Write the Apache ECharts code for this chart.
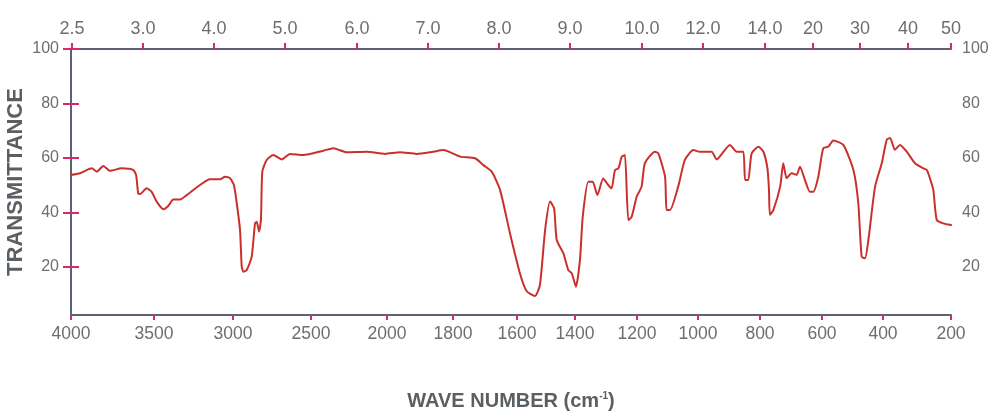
<!DOCTYPE html>
<html>
<head>
<meta charset="utf-8">
<script src="https://cdn.jsdelivr.net/npm/echarts@6/dist/echarts.min.js"></script>
<style>
html,body{margin:0;padding:0;background:#fff;}
#chart{width:993px;height:417px;}
</style>
</head>
<body>
<div id="chart"></div>
<script>
// Bottom axis: wavenumber tick labels (cm-1) and where each sits along the (non-linear) axis scale
const bottomTickLabels = [4000, 3500, 3000, 2500, 2000, 1800, 1600, 1400, 1200, 1000, 800, 600, 400, 200];
const bottomTickPos    = [0, 83, 162, 240, 316, 382, 446, 504, 566, 627, 689, 751, 812, 880];
// Top axis: wavelength tick labels (µm)
const topTickLabels = ['2.5', '3.0', '4.0', '5.0', '6.0', '7.0', '8.0', '9.0', '10.0', '12.0', '14.0', '20', '30', '40', '50'];
const topTickPos    = [1, 72, 143, 214, 286, 357, 428, 499, 571, 632, 694, 742, 789, 837, 880];
// Y axis tick labels
const yTicks = [20, 40, 60, 80, 100];

// Spectrum: wavenumber (cm-1) and transmittance (%)
const wavenumber = [4000,3946,3875,3845,3805,3765,3695,3625,3608,3595,
  3584,3544,3514,3483,3441,3410,3378,3335,3293,3209,
  3146,3082,3051,3019,2994,2976,2955,2944,2934,2912,
  2880,2859,2848,2833,2821,2812,2784,2742,2688,2635,
  2549,2419,2353,2265,2134,2013,1961,1910,1860,1829,
  1778,1731,1705,1679,1653,1622,1590,1567,1538,1521,
  1503,1486,1472,1463,1440,1423,1411,1397,1384,1375,
  1357,1343,1328,1309,1293,1282,1271,1260,1249,1239,
  1228,1217,1201,1185,1174,1141,1130,1108,1103,1092,
  1065,1043,1015,994,956,940,897,875,854,848,
  838,827,805,789,776,771,768,757,735,725,
  714,698,682,671,655,639,628,612,596,579,
  563,530,497,481,470,459,448,426,404,389,
  379,365,350,330,306,281,271,262,252,242,
  223,200];
const transmittance = [53.8,54.4,56.2,55.0,57.1,55.3,56.2,55.6,53.8,47.0,
  46.8,48.9,47.6,44.0,41.2,42.4,44.8,44.8,46.4,50.1,
  52.2,52.2,53.1,52.6,50.1,43.4,33.6,20.1,18.3,18.9,
  23.8,36.0,36.6,33.0,37.3,55.0,59.3,61.1,59.5,61.5,
  61.1,62.7,63.6,62.1,62.3,61.5,62.1,61.5,62.3,62.9,
  60.5,59.9,57.4,55.0,48.3,32.4,17.7,11.2,9.4,13.4,
  33.6,44.0,41.5,29.9,25.0,18.9,17.7,12.8,22.6,38.5,
  51.3,51.3,46.4,52.5,50.1,48.9,55.6,56.2,60.5,61.1,
  37.2,38.5,45.8,49.5,58.1,62.3,61.7,53.1,40.9,40.9,
  49.5,59.3,62.9,62.3,62.3,59.5,64.8,62.3,62.3,51.9,
  51.9,61.7,64.1,62.3,56.2,48.3,39.1,40.9,49.5,58.1,
  52.6,54.4,53.8,56.8,51.9,47.6,47.6,53.1,63.6,64.2,
  66.4,64.8,55.6,43.4,23.8,23.2,29.9,49.5,58.1,66.7,
  67.3,63.0,64.8,62.3,58.1,56.2,55.6,52.6,48.3,37.3,
  36.0,35.4];

if (wavenumber.length !== transmittance.length) throw new Error('length mismatch ' + wavenumber.length + ' ' + transmittance.length);

// Non-linear wavenumber scale: piecewise linear between the bottom ticks
function scalePos(wn) {
  for (let i = 0; i < bottomTickLabels.length - 1; i++) {
    const a = bottomTickLabels[i], b = bottomTickLabels[i + 1];
    if (wn <= a && wn >= b) {
      return bottomTickPos[i] + (a - wn) / (a - b) * (bottomTickPos[i + 1] - bottomTickPos[i]);
    }
  }
  return wn > bottomTickLabels[0] ? bottomTickPos[0] : bottomTickPos[bottomTickPos.length - 1];
}

const seriesData = wavenumber.map((wn, i) => [scalePos(wn), transmittance[i]]);
const axisMax = bottomTickPos[bottomTickPos.length - 1];

const AXIS_COLOR = '#5c6272';
const TICK_COLOR = '#d4286f';
const LABEL_COLOR = '#6e6e6e';
const TITLE_COLOR = '#5a5f63';
const FONT = '"Liberation Sans", Arial, sans-serif';

const chart = echarts.init(document.getElementById('chart'), null, {renderer: 'canvas'});
chart.setOption({
  backgroundColor: '#ffffff',
  animation: false,
  grid: {left: 71, right: 42, top: 49, bottom: 102, containLabel: false, outerBoundsMode: 'none'},
  xAxis: [
    {
      type: 'value', position: 'bottom', min: 0, max: axisMax,
      name: 'WAVE NUMBER (cm{sup|-1})',
      nameLocation: 'middle', nameGap: 76, nameMoveOverlap: false,
      nameTextStyle: {
        color: TITLE_COLOR, fontSize: 20, fontWeight: 'bold', fontFamily: FONT,
        rich: {sup: {fontSize: 10, fontWeight: 'bold', color: TITLE_COLOR, fontFamily: FONT, verticalAlign: 'top', lineHeight: 12}}
      },
      axisLine: {show: true, lineStyle: {color: AXIS_COLOR, width: 2}},
      axisTick: {show: true, inside: false, length: 5, lineStyle: {color: TICK_COLOR, width: 2}, customValues: bottomTickPos},
      axisLabel: {
        show: true, margin: 10, color: LABEL_COLOR, fontSize: 17.5, fontFamily: FONT,
        customValues: bottomTickPos,
        formatter: v => { const i = bottomTickPos.indexOf(v); return i >= 0 ? String(bottomTickLabels[i]) : ''; }
      },
      splitLine: {show: false}
    },
    {
      type: 'value', position: 'top', min: 0, max: axisMax,
      axisLine: {show: true, lineStyle: {color: AXIS_COLOR, width: 2}},
      axisTick: {show: true, inside: false, length: 6, lineStyle: {color: TICK_COLOR, width: 2}, customValues: topTickPos},
      axisLabel: {
        show: true, margin: 11, color: LABEL_COLOR, fontSize: 18, fontFamily: FONT,
        customValues: topTickPos,
        formatter: v => { const i = topTickPos.indexOf(v); return i >= 0 ? topTickLabels[i] : ''; }
      },
      splitLine: {show: false}
    }
  ],
  yAxis: [
    {
      type: 'value', position: 'left', min: 2.4, max: 100,
      name: 'TRANSMITTANCE', nameLocation: 'middle', nameRotate: 90, nameGap: 44, nameMoveOverlap: false,
      nameTextStyle: {color: TITLE_COLOR, fontSize: 22, fontWeight: 'bold', fontFamily: FONT},
      axisLine: {show: true, lineStyle: {color: AXIS_COLOR, width: 2}},
      axisTick: {show: true, inside: false, length: 8, lineStyle: {color: TICK_COLOR, width: 2}, customValues: yTicks},
      axisLabel: {show: true, margin: 12, color: LABEL_COLOR, fontSize: 16, fontFamily: FONT, customValues: yTicks},
      splitLine: {show: false}
    },
    {
      type: 'value', position: 'right', min: 2.4, max: 100,
      axisLine: {show: true, lineStyle: {color: AXIS_COLOR, width: 2}},
      axisTick: {show: true, inside: false, length: 8, lineStyle: {color: TICK_COLOR, width: 2}, customValues: yTicks},
      axisLabel: {show: true, margin: 11, color: LABEL_COLOR, fontSize: 16, fontFamily: FONT, customValues: yTicks},
      splitLine: {show: false}
    }
  ],
  series: [{
    type: 'line',
    xAxisIndex: 0, yAxisIndex: 0,
    data: seriesData,
    showSymbol: false,
    smooth: 0.2,
    lineStyle: {color: '#c9302c', width: 2, join: 'round', cap: 'round'},
    z: 3
  }]
});
</script>
</body>
</html>
